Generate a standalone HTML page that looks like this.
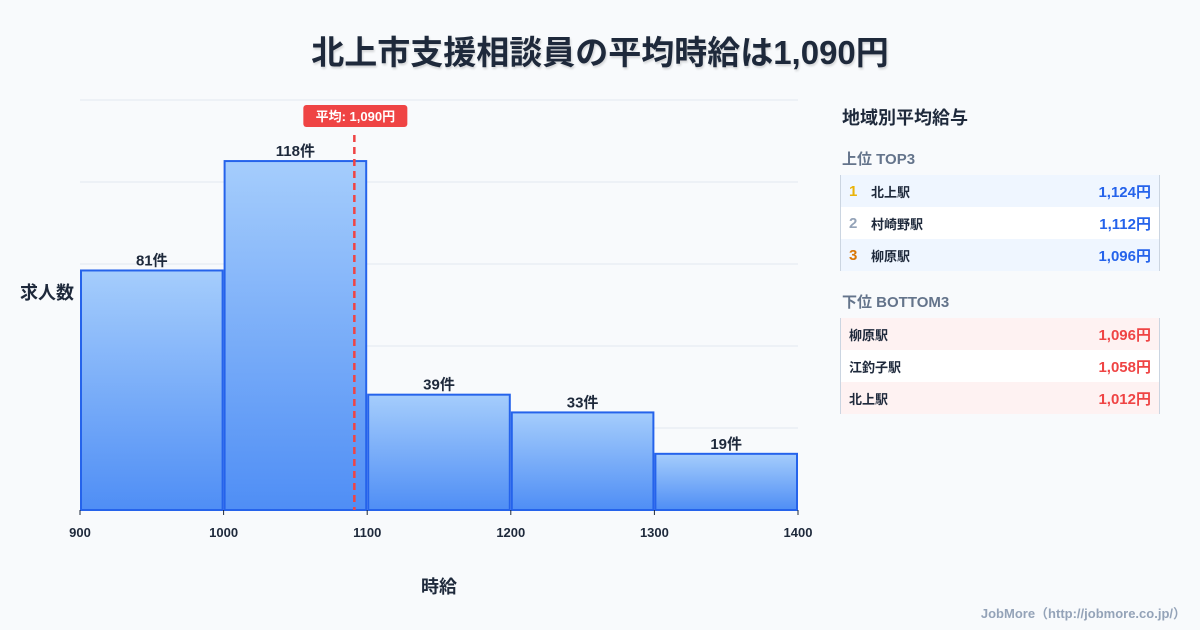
<!DOCTYPE html>
<html><head><meta charset="utf-8">
<style>
body{margin:0;width:1200px;height:630px;background:#f8fafc;font-family:"Liberation Sans","Noto Sans CJK JP",sans-serif;overflow:hidden;position:relative;color:#1e293b}
.title{position:absolute;top:26px;left:0;width:1200px;text-align:center;font-size:33px;font-weight:700;color:#1e293b;text-shadow:1px 2px 2px rgba(0,0,0,.15)}
.panel{position:absolute;left:840px;top:100px;width:320px}
.ph{font-size:18px;font-weight:700;margin:4px 0 0 2px}
.sub{font-size:15px;font-weight:700;color:#64748b;margin:18px 0 6px 2px}
.rows{border-left:1px solid #cbd5e1;border-right:1px solid #cbd5e1}
.row{height:32px;display:flex;align-items:center;font-size:13px;font-weight:700;padding:0 8px;position:relative}
.row .n{width:22px;font-size:15px}
.row .v{position:absolute;right:8px;font-size:15px}
.top .row:nth-child(odd){background:#eff6ff}.top .row:nth-child(even){background:#fff}
.bot .row:nth-child(odd){background:#fef2f2}.bot .row:nth-child(even){background:#fff}
.top .v{color:#2563eb}.bot .v{color:#ef4444}
.foot{position:absolute;right:14px;bottom:8px;font-size:13px;font-weight:700;color:#94a3b8}
</style></head><body>
<div class="title">北上市支援相談員の平均時給は1,090円</div>
<svg id="chart" width="1200" height="630" style="position:absolute;left:0;top:0">
<defs><linearGradient id="g" x1="0" y1="0" x2="0" y2="1"><stop offset="0" stop-color="#a5cdfc"/><stop offset="1" stop-color="#4f8ef5"/></linearGradient></defs>
</svg>
<div class="panel">
<div class="ph">地域別平均給与</div>
<div class="sub">上位 TOP3</div>
<div class="rows top">
<div class="row"><span class="n" style="color:#eab308">1</span>北上駅<span class="v">1,124円</span></div>
<div class="row"><span class="n" style="color:#94a3b8">2</span>村崎野駅<span class="v">1,112円</span></div>
<div class="row"><span class="n" style="color:#d97706">3</span>柳原駅<span class="v">1,096円</span></div>
</div>
<div class="sub" style="margin-top:20px">下位 BOTTOM3</div>
<div class="rows bot">
<div class="row">柳原駅<span class="v">1,096円</span></div>
<div class="row">江釣子駅<span class="v">1,058円</span></div>
<div class="row">北上駅<span class="v">1,012円</span></div>
</div>
</div>
<div class="foot">JobMore（http://jobmore.co.jp/）</div>
<script>
const binEdges=[900,1000,1100,1200,1300,1400];
const counts=[81,118,39,33,19];
const meanValue=1090;
const meanLabel="平均: 1,090円";
const NS="http://www.w3.org/2000/svg";
const svg=document.getElementById('chart');
const X0=80,X1=798,Y0=510,H=410;
const yMax=Math.max(...counts)*1.175;
const xs=v=>X0+(v-binEdges[0])/(binEdges[binEdges.length-1]-binEdges[0])*(X1-X0);
const ys=v=>Y0-v/yMax*H;
function mk(t,a,txt){const e=document.createElementNS(NS,t);for(const k in a)e.setAttribute(k,a[k]);if(txt!=null)e.textContent=txt;svg.appendChild(e);return e;}
for(let i=0;i<=5;i++){const y=Y0-H*i/5;
const gl=mk('line',{x1:X0,x2:X1,y1:y,y2:y,stroke:'#e2e8f0','stroke-width':1});

}
counts.forEach((c,i)=>{
const x=xs(binEdges[i])+1,w=xs(binEdges[i+1])-xs(binEdges[i])-2,y=ys(c);
const r=mk('rect',{x:x,y:y,width:w,height:Y0-y,fill:'url(#g)',stroke:'#2563eb','stroke-width':2});


const t=mk('text',{x:x+w/2,y:y-5,'text-anchor':'middle','font-size':15,'font-weight':700,fill:'#1e293b'},c+'件');


});
binEdges.forEach(v=>{
const t=mk('text',{x:xs(v),y:537,'text-anchor':'middle','font-size':13,'font-weight':700,fill:'#1e293b'},v);


const tk=mk('line',{x1:xs(v),x2:xs(v),y1:Y0,y2:Y0+5,stroke:'#1e293b'});


});
const mx=xs(meanValue)+1.5;
const ml=mk('line',{x1:mx,x2:mx,y1:135,y2:Y0,stroke:'#ef4444','stroke-width':2.5,'stroke-dasharray':'7,5'});


const mb=mk('rect',{x:mx-51,y:105,width:104,height:22,rx:3,fill:'#ef4444'});


const mt=mk('text',{x:mx+1,y:121,'text-anchor':'middle','font-size':13,'font-weight':700,fill:'#fff'},meanLabel);


const yt=mk('text',{x:20,y:299,'font-size':18,'font-weight':700,fill:'#1e293b'},'求人数');


const xt=mk('text',{x:439,y:593,'text-anchor':'middle','font-size':18,'font-weight':700,fill:'#1e293b'},'時給');


</script>
</body></html>
